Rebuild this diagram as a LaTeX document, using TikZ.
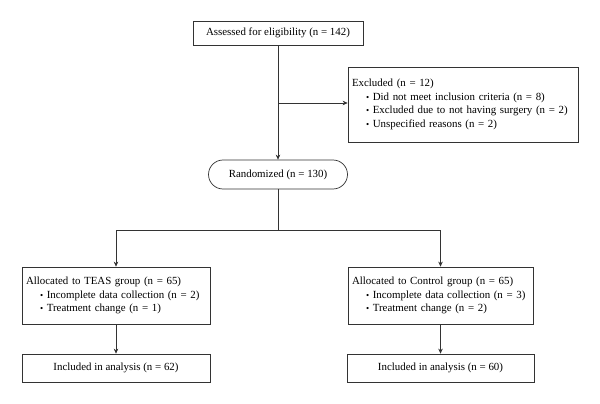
\documentclass[tikz,border=0pt]{standalone}
\usepackage{fontspec}
\setmainfont{Liberation Serif}
\usetikzlibrary{arrows.meta}
\begin{document}
\begin{tikzpicture}[x=1pt,y=-1pt,
  box/.style={draw=black!80, line width=0.7pt, inner sep=0pt, anchor=center,
    font=\fontsize{10.9}{13.5}\selectfont},
  lbox/.style={box, align=left},
  arr/.style={draw=black!80, line width=0.7pt, -{Stealth[length=5pt,width=4.5pt]}},
  ln/.style={draw=black!80, line width=0.7pt}]
\useasboundingbox[fill=white] (0,0) rectangle (600,404);
\newcommand{\bul}{\hspace*{14pt}{\small\textbullet}\ }
\node[box, minimum width=170pt, minimum height=24pt] (top) at (278,33)
  {Assessed for eligibility (n = 142)};
\node[lbox, minimum width=230pt, minimum height=75pt, text width=222pt] (excl) at (463,104.5)
  {Excluded (n = 12)\\
   \bul Did not meet inclusion criteria (n = 8)\\
   \bul Excluded due to not having surgery (n = 2)\\
   \bul Unspecified reasons (n = 2)};
\node[box, minimum width=139pt, minimum height=29pt, rounded corners=14.5pt] (rand) at (278,174.5)
  {Randomized (n = 130)};
\node[lbox, minimum width=188pt, minimum height=57pt, text width=180pt] (teas) at (116,295.5)
  {Allocated to TEAS group (n = 65)\\
   \bul Incomplete data collection (n = 2)\\
   \bul Treatment change (n = 1)};
\node[lbox, minimum width=185pt, minimum height=57pt, text width=177pt] (ctrl) at (440.5,295.5)
  {Allocated to Control group (n = 65)\\
   \bul Incomplete data collection (n = 3)\\
   \bul Treatment change (n = 2)};
\node[box, minimum width=188pt, minimum height=28pt] (inc1) at (116,368)
  {Included in analysis (n = 62)};
\node[box, minimum width=187pt, minimum height=28pt] (inc2) at (440.5,368)
  {Included in analysis (n = 60)};
\coordinate (j1) at (278,103);
\coordinate (split) at (278,230);
\draw[arr] (top.south) -- (rand.north);
\draw[arr] (j1) -- (j1 -| excl.west);
\draw[ln] (rand.south) -- (split);
\draw[arr] (split) -| (teas.north);
\draw[arr] (split) -| (ctrl.north);
\draw[arr] (teas) -- (inc1);
\draw[arr] (ctrl) -- (inc2);
\end{tikzpicture}
\end{document}
